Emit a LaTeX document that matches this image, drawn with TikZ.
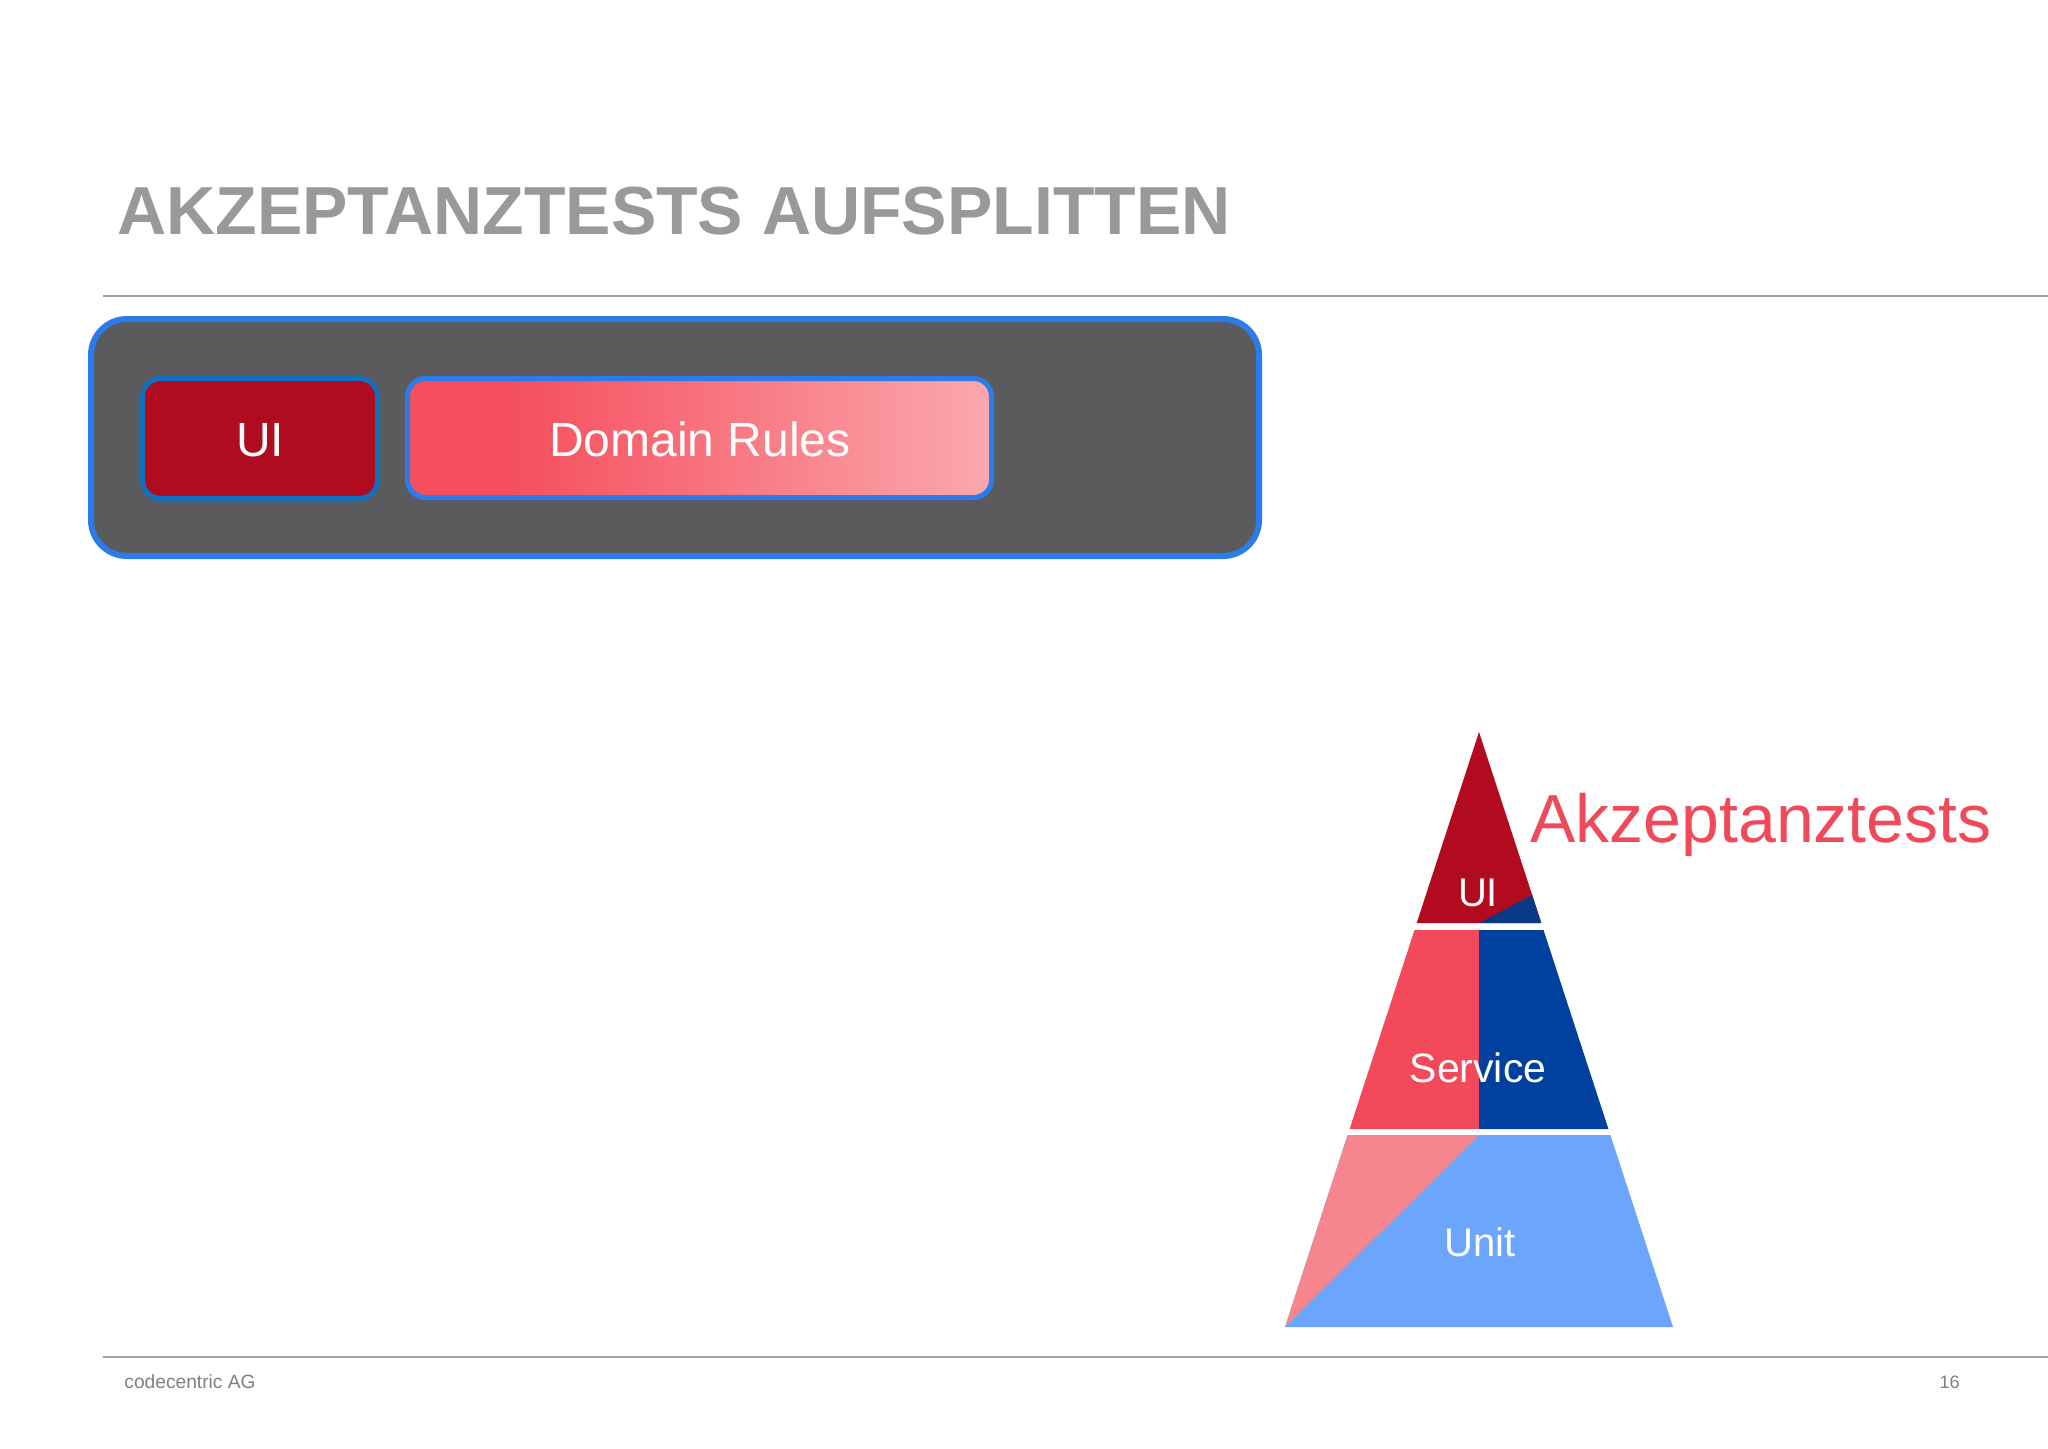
\documentclass[tikz,border=0pt]{standalone}
\usepackage{fontspec}
\setmainfont{Liberation Sans}
\definecolor{titlegray}{HTML}{999999}
\definecolor{rulegray}{HTML}{A0A0A0}
\definecolor{footgray}{HTML}{808080}
\definecolor{outerfill}{HTML}{5B5A5C}
\definecolor{outerline}{HTML}{2B7BEA}
\definecolor{uiline}{HTML}{1070C0}
\definecolor{uifill}{HTML}{B00B1E}
\definecolor{drleft}{HTML}{F54E5C}
\definecolor{drright}{HTML}{FBA8AE}
\definecolor{pyred}{HTML}{B20A1E}
\definecolor{pynavy}{HTML}{0A3A86}
\definecolor{svred}{HTML}{F24A5A}
\definecolor{svblue}{HTML}{0041A0}
\definecolor{unpink}{HTML}{F5868E}
\definecolor{unblue}{HTML}{6CA6FC}
\definecolor{akz}{HTML}{F04A5A}
\pgfdeclarehorizontalshading{drshade}{100bp}{color(0bp)=(drleft); color(25bp)=(drleft); color(33.5bp)=(drleft); color(75bp)=(drright); color(100bp)=(drright)}
\begin{document}
\begin{tikzpicture}[x=0.5pt,y=-0.5pt,
  basetext/.style={inner sep=0pt,anchor=base},
  boxtext/.style={basetext,text=white,font=\fontsize{24}{28}\selectfont},
  pytext/.style={basetext,text=white,font=\fontsize{20.5}{24}\selectfont},
  outerbox/.style={fill=outerfill,draw=outerline,line width=3pt,rounded corners=18pt},
  innerbox/.style={line width=2.5pt,rounded corners=9pt}]
\useasboundingbox[fill=white] (0,0) rectangle (2048,1448);
% title
\node[basetext,anchor=base west,text=titlegray,font=\bfseries\fontsize{34}{40}\selectfont] (title) at (117,234) {AKZEPTANZTESTS AUFSPLITTEN};
\coordinate (r1a) at (103,296); \coordinate (r1b) at (2048,296);
\draw[rulegray,line width=1pt] (r1a) -- (r1b);
\coordinate (r2a) at (103,1357); \coordinate (r2b) at (2048,1357);
\draw[rulegray,line width=1pt] (r2a) -- (r2b);
\node[basetext,anchor=base west,text=footgray,font=\fontsize{9.6}{11}\selectfont] (foot) at (124,1388) {codecentric AG};
\node[basetext,anchor=base east,text=footgray,font=\fontsize{9}{11}\selectfont] (page) at (1960,1388) {16};
% boxes
\draw[outerbox] (91,319) rectangle (1259,556);
\draw[innerbox,fill=uifill,draw=uiline] (142.5,378.5) rectangle (377.5,498.5);
\shade[innerbox,shading=drshade] (407.5,378.5) rectangle (991.5,497.5);
\draw[innerbox,draw=outerline] (407.5,378.5) rectangle (991.5,497.5);
\node[boxtext] (uibox) at (260,456) {UI};
\node[boxtext] (domain) at (700,456) {Domain Rules};
% pyramid
\coordinate (apex) at (1479,732);
\coordinate (uiL) at (1416.7,923); \coordinate (uiR) at (1541.3,923); \coordinate (uiC) at (1479,923);
\coordinate (uiT) at (1532.1,895);
\coordinate (svTL) at (1414.5,930); \coordinate (svTR) at (1543.5,930); \coordinate (svTC) at (1479,930);
\coordinate (svBL) at (1349.6,1129); \coordinate (svBR) at (1608.4,1129); \coordinate (svBC) at (1479,1129);
\coordinate (unTL) at (1347.6,1135); \coordinate (unTR) at (1610.4,1135); \coordinate (unTC) at (1479,1135);
\coordinate (unBL) at (1285,1327); \coordinate (unBR) at (1673,1327);
\fill[pyred] (apex) -- (uiL) -- (uiR) -- cycle;
\fill[pynavy] (uiC) -- (uiT) -- (uiR) -- cycle;
\fill[svred] (svTL) -- (svTC) -- (svBC) -- (svBL) -- cycle;
\fill[svblue] (svTC) -- (svTR) -- (svBR) -- (svBC) -- cycle;
\fill[unblue] (unTL) -- (unTR) -- (unBR) -- (unBL) -- cycle;
\fill[unpink] (unTL) -- (unTC) -- (unBL) -- cycle;
\node[pytext,font=\fontsize{20}{24}\selectfont] (pyui) at (1478,906) {UI};
\node[pytext] (pysv) at (1478,1082) {Service};
\node[pytext,font=\fontsize{20}{24}\selectfont] (pyun) at (1480,1256) {Unit};
\node[basetext,anchor=base west,text=akz,font=\fontsize{34}{40}\selectfont] (akz) at (1530,842) {Akzeptanztests};
\end{tikzpicture}
\end{document}
